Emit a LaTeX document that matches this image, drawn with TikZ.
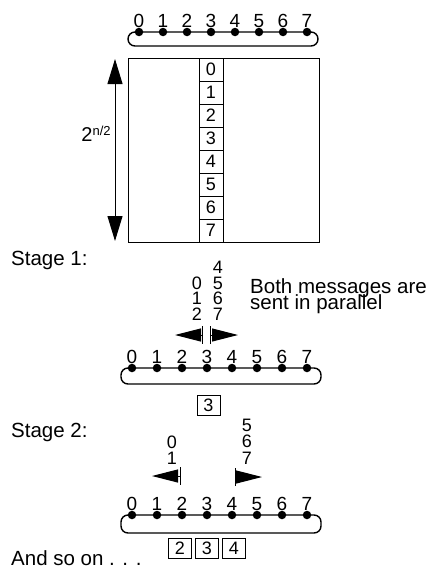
\documentclass[tikz,border=0pt]{standalone}
\usepackage{fontspec}
\setmainfont{Liberation Sans}
\usetikzlibrary{arrows.meta}

\tikzset{
  dot/.style={circle, fill=black, inner sep=0pt, minimum size=8.5pt},
  ringdigit/.style={inner sep=0pt, anchor=south, font=\fontsize{19}{19}\selectfont},
  stack/.style={inner sep=0pt, align=center, anchor=north,
    font={\fontsize{18}{#1}\selectfont\lineskiplimit=-50pt\lineskip=0pt}},
  words/.style={inner sep=0pt, anchor=base west, font=\fontsize{20.5}{20.5}\selectfont},
  note/.style={inner sep=0pt, anchor=north west, align=left,
    font={\fontsize{20.5}{16}\selectfont\lineskiplimit=-50pt\lineskip=0pt}},
  cell/.style={draw, line width=1pt, minimum width=24pt, minimum height=23pt,
    inner sep=0pt, font=\fontsize{18}{18}\selectfont},
  boxed/.style={draw, line width=1pt, minimum width=23pt, minimum height=20pt,
    inner sep=0pt, font=\fontsize{18}{18}\selectfont},
  loopline/.style={line width=1.4pt, rounded corners=7pt},
  msg/.style={line width=1pt, arrows={Bar[width=18pt,line width=1pt]-Triangle[length=26pt,width=13pt]}},
  span/.style={line width=1pt, arrows={Triangle[length=25pt,width=15pt]-Triangle[length=25pt,width=15pt]}}
}

\begin{document}
\begin{tikzpicture}[x=1pt,y=-1pt]
\useasboundingbox (0,0) rectangle (440,570);

% ---- ring of eight processors above the matrix ----
\foreach \i in {0,...,7} {
  \node[dot] (t\i) at (139+24*\i,32) {};
  \node[ringdigit] (tl\i) at ([yshift=4.5pt]t\i.center) {\i};
}
\draw[loopline] ([xshift=-11pt]t0.center) rectangle ([xshift=11pt,yshift=-14pt]t7.center);

% ---- the matrix with its column of blocks ----
\node[draw, line width=1pt, minimum width=191pt, minimum height=184pt, inner sep=0pt,
      anchor=north west] (mat) at (128,58) {};
\foreach \i in {0,...,7}
  \node[cell] (c\i) at (211,69.5+23*\i) {\i};

\coordinate (htop) at (115,59);
\coordinate (hbot) at (115,241);
\draw[span] (htop) -- (hbot);
\node[inner sep=0pt, font=\fontsize{20}{20}\selectfont] (hlbl) at (96,134)
  {2\raisebox{6.5pt}{\fontsize{13}{13}\selectfont n/2}};

% ---- stage 1 ----
\node[words] (st1) at (11,265) {Stage 1:};
\node[stack=15.5] (lcol1) at (197,276.5) {0\\1\\2};
\node[stack=15.5] (rcol1) at (218,261) {4\\5\\6\\7};
\node[note] (both) at (250,278) {Both messages are\\sent in parallel};

\coordinate (a1lb) at (203,335);
\coordinate (a1lt) at (175,335);
\coordinate (a1rb) at (210,335);
\coordinate (a1rt) at (238,335);
\draw[msg] (a1lb) -- (a1lt);
\draw[msg] (a1rb) -- (a1rt);

\foreach \i in {0,...,7} {
  \node[dot] (p\i) at (132+25*\i,368) {};
  \node[ringdigit] (pl\i) at ([yshift=4.5pt]p\i.center) {\i};
}
\draw[loopline] ([xshift=-11pt]p0.center) rectangle ([xshift=14pt,yshift=-16pt]p7.center);
\node[boxed] (b1) at (208.5,405) {3};

% ---- stage 2 ----
\node[words] (st2) at (11,437) {Stage 2:};
\node[stack=16] (lcol2) at (172,435.5) {0\\1};
\node[stack=16.5] (rcol2) at (247,418.5) {5\\6\\7};

\coordinate (a2lb) at (181,476);
\coordinate (a2lt) at (152,476);
\coordinate (a2rb) at (235,477);
\coordinate (a2rt) at (262,477);
\draw[msg] (a2lb) -- (a2lt);
\draw[msg] (a2rb) -- (a2rt);

\foreach \i in {0,...,7} {
  \node[dot] (q\i) at (132+25*\i,515) {};
  \node[ringdigit] (ql\i) at ([yshift=4.5pt]q\i.center) {\i};
}
\draw[loopline] ([xshift=-11pt]q0.center) rectangle ([xshift=14pt,yshift=-18pt]q7.center);
\node[boxed] (b2) at (180,548) {2};
\node[boxed] (b3) at (207,548) {3};
\node[boxed] (b4) at (234,548) {4};

\node[words] (etc) at (11,565) {And so on . . .};
\end{tikzpicture}
\end{document}
